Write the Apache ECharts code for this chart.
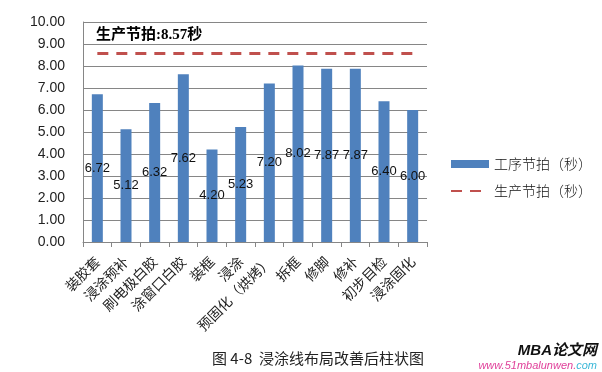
<!DOCTYPE html>
<html><head><meta charset="utf-8">
<script src="https://cdn.jsdelivr.net/npm/echarts@6/dist/echarts.min.js"></script>
<style>html,body{margin:0;padding:0;background:#fff}#c{width:602px;height:372px}</style>
</head><body><div id="c"></div>
<script>
var categoryNames = ['装胶套','浸涂预补','刷电极白胶','涂窗口白胶','装框','浸涂','预固化（烘烤）','拆框','修脚','修补','初步目检','浸涂固化'];
var processTakt = [6.72, 5.12, 6.32, 7.62, 4.20, 5.23, 7.20, 8.02, 7.87, 7.87, 6.40, 6.00];
var productionTakt = [8.57, 8.57, 8.57, 8.57, 8.57, 8.57, 8.57, 8.57, 8.57, 8.57, 8.57, 8.57];
var seriesNames = ['工序节拍（秒）','生产节拍（秒）'];
var noteText = '生产节拍:8.57秒';
var captionText = '图 4-8  浸涂线布局改善后柱状图';

var chart = echarts.init(document.getElementById('c'), null, {renderer:'canvas'});
var cjk = '"Noto Sans CJK SC", sans-serif';
chart.setOption({
  animation:false,
  backgroundColor:'#fff',
  grid:{left:83, right:175, top:22, bottom:130, containLabel:false},
  legend:{
    orient:'vertical', left:445, top:152, itemWidth:38, itemHeight:8, itemGap:13,
    textStyle:{fontFamily:cjk, fontSize:14, color:'#111', fontWeight:300},
    data:[{name:seriesNames[0], icon:'rect'},{name:seriesNames[1], itemStyle:{opacity:0}}]
  },
  xAxis:{
    type:'category',
    data:categoryNames,
    boundaryGap:true,
    axisLine:{lineStyle:{color:'#868686'}},
    axisTick:{show:true, length:5, lineStyle:{color:'#868686'}},
    axisLabel:{rotate:45, interval:0, fontFamily:cjk, fontSize:14, color:'#222', margin:17}
  },
  yAxis:{
    type:'value', min:0, max:10, interval:1,
    axisLine:{show:true, lineStyle:{color:'#868686'}},
    axisTick:{show:false},
    splitLine:{lineStyle:{color:'#868686'}},
    axisLabel:{formatter:function(v){return v.toFixed(2);}, fontFamily:'"Liberation Sans", sans-serif', fontSize:14, color:'#222', margin:18}
  },
  series:[
    {name:seriesNames[0], type:'bar', data:processTakt, barWidth:11,
     itemStyle:{color:'#4F81BD'},
     label:{show:true, position:'inside', color:'#111', fontFamily:'"Liberation Sans", sans-serif', fontSize:13,
            formatter:function(p){return p.value.toFixed(2);}}},
    {name:seriesNames[1], type:'line', data:productionTakt, symbol:'none',
     lineStyle:{color:'#C0504D', width:3, type:[11,8]}, itemStyle:{color:'#C0504D'}}
  ],
  graphic:[
    {type:'text', left:96, top:28, style:{text:noteText, font:'bold 15px "Liberation Serif", "Noto Sans CJK SC"', fill:'#000'}},
    {type:'text', left:212, top:351, style:{text:captionText, font:'15px "Noto Sans CJK SC"', fill:'#222'}},
    {type:'text', right:5, top:343, style:{text:'MBA论文网', font:'italic bold 15px "Liberation Sans", "Noto Sans CJK SC"', fill:'#111'}},
    {type:'text', right:5, top:360, style:{text:'{a|www.51mbalunwen.}{b|com}', rich:{a:{fill:'#e0409a', font:'italic 11px "Liberation Sans"'}, b:{fill:'#3cb8d8', font:'italic 11px "Liberation Sans"'}}}}
  ]
});
</script></body></html>
